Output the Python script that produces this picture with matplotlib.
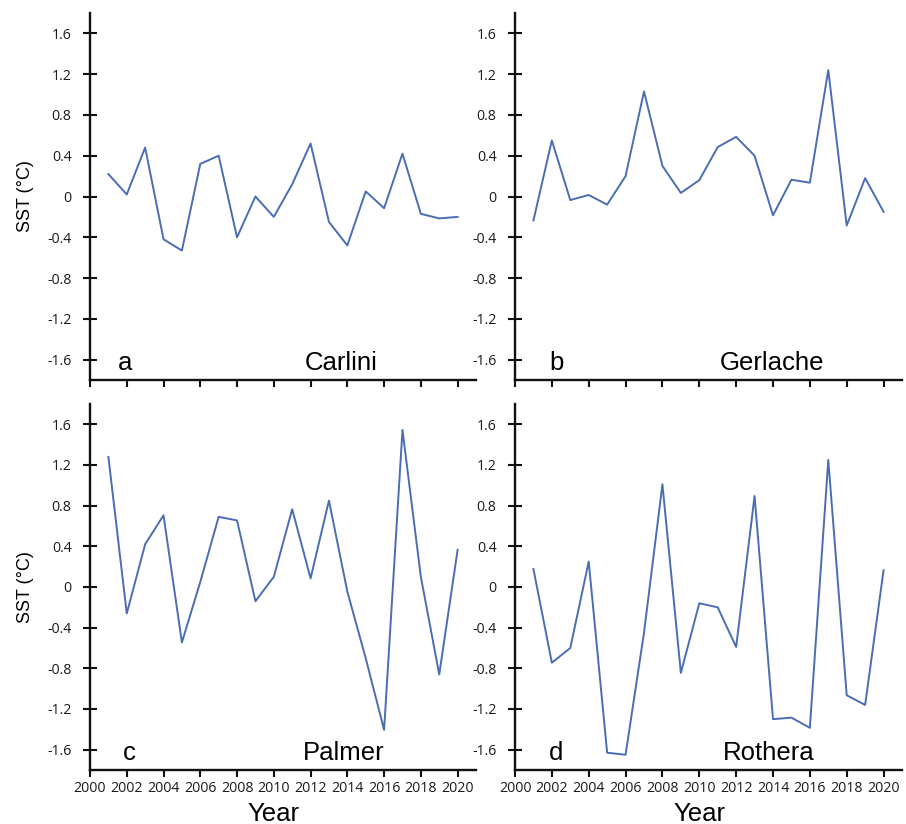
import matplotlib
matplotlib.use("Agg")
import matplotlib.pyplot as plt

years = list(range(2001, 2021))

carlini = [0.22, 0.02, 0.48, -0.42, -0.53, 0.32, 0.40, -0.40, 0.0, -0.20,
           0.12, 0.52, -0.25, -0.48, 0.05, -0.115, 0.42, -0.17, -0.215, -0.20]
gerlache = [-0.235, 0.55, -0.035, 0.015, -0.08, 0.20, 1.03, 0.30, 0.035, 0.16,
            0.485, 0.585, 0.40, -0.185, 0.165, 0.135, 1.24, -0.285, 0.18, -0.15]
palmer = [1.28, -0.26, 0.42, 0.705, -0.545, 0.05, 0.69, 0.655, -0.14, 0.10,
          0.765, 0.085, 0.85, -0.045, -0.70, -1.405, 1.545, 0.10, -0.86, 0.365]
rothera = [0.177, -0.745, -0.60, 0.25, -1.63, -1.65, -0.45, 1.01, -0.845, -0.16,
           -0.20, -0.59, 0.895, -1.30, -1.285, -1.385, 1.25, -1.065, -1.16, 0.165]

series = [carlini, gerlache, palmer, rothera]
letters = ["a", "b", "c", "d"]
stations = ["Carlini", "Gerlache", "Palmer", "Rothera"]
yticks = [-1.6, -1.2, -0.8, -0.4, 0, 0.4, 0.8, 1.2, 1.6]
ytick_labels = ["-1.6", "-1.2", "-0.8", "-0.4", "0", "0.4", "0.8", "1.2", "1.6"]
xticks = list(range(2000, 2021, 2))
xtick_labels = [str(x) for x in xticks]

line_color = "#4a6db5"
W, H = 906, 824
fig = plt.figure(figsize=(W / 100, H / 100), dpi=100)

# axes rectangles in pixels: (left, top, right, bottom)
rects = [
    (90, 13, 476, 380),
    (515, 13, 902, 380),
    (90, 404, 476, 770),
    (515, 404, 902, 770),
]
station_x = [2011.7, 2011.1, 2011.6, 2011.3]
letter_x = [2001.5, 2001.85, 2001.8, 2001.85]

tick_font = "Open Sans"
label_font = "Liberation Sans"

for i, (l, t, r, b) in enumerate(rects):
    ax = fig.add_axes([l / W, 1 - b / H, (r - l) / W, (b - t) / H])
    ax.plot(years, series[i], color=line_color, lw=1.4)
    ax.set_xlim(2000, 2021)
    ax.set_ylim(-1.8, 1.8)
    for s in ["top", "right"]:
        ax.spines[s].set_visible(False)
    for s in ["left", "bottom"]:
        ax.spines[s].set_linewidth(1.7)
        ax.spines[s].set_color("#111111")
    ax.set_yticks(yticks)
    ax.set_yticklabels(ytick_labels, fontfamily=tick_font, fontsize=10.2, color="#1a1a1a")
    ax.set_xticks(xticks)
    ax.tick_params(axis="y", direction="inout", length=10.5, width=1.5, pad=8, color="#111111")
    ax.tick_params(axis="x", direction="out", length=5, width=1.5, pad=3, color="#111111")
    if i >= 2:
        ax.set_xticklabels(xtick_labels, fontfamily=tick_font, fontsize=10.2, color="#1a1a1a")
        ax.set_xlabel("Year", fontfamily=label_font, fontsize=18.5, labelpad=0)
        ax.xaxis.set_label_coords(10 / 21, -0.087)
    else:
        ax.set_xticklabels([])
    if i % 2 == 0:
        ax.set_ylabel("SST (°C)", fontfamily=label_font, fontsize=13)
        ax.yaxis.set_label_coords(-0.145, 0.5)
    ax.text(letter_x[i], -1.70, letters[i], fontfamily=label_font, fontsize=18.5,
            ha="left", va="baseline")
    ax.text(station_x[i], -1.70, stations[i], fontfamily=label_font, fontsize=18.5,
            ha="left", va="baseline")

fig.savefig("out.png", dpi=100)
